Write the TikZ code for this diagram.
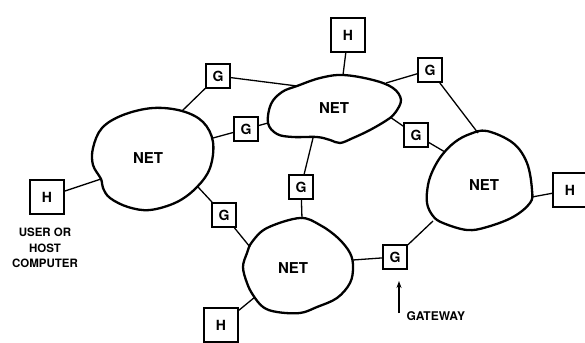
\documentclass[tikz,border=0pt]{standalone}
\usepackage{fontspec}
\setmainfont{TeX Gyre Heros}
\usetikzlibrary{arrows.meta}
\begin{document}
\begin{tikzpicture}[x=1pt,y=-1pt,
		net/.style={line width=2.3pt,line join=round},
		link/.style={line width=1.3pt},
		gbox/.style={draw,line width=1.8pt,minimum size=24pt,inner sep=0pt,font=\fontsize{14}{14}\selectfont\bfseries},
		hbox/.style={draw,line width=1.8pt,minimum size=34pt,inner sep=0pt,font=\fontsize{14}{14}\selectfont\bfseries},
		lbl/.style={font=\fontsize{15}{15}\selectfont\bfseries}]
		\useasboundingbox (0,0) rectangle (585,342);
		% the four networks
		\draw[net] plot[smooth cycle,tension=0.6] coordinates {(153,108) (182,111) (203,122) (213,142) (210,168) (197,187) (177,202) (150,210) (128,207) (110,198) (103,188) (101,179) (93,165) (93,148) (102,128) (123,115)};
		\draw[net] plot[smooth cycle,tension=0.6] coordinates {(297,86) (320,78) (343,75) (373,80) (393,88) (401,100) (395,113) (387,120) (370,130) (353,138) (340,143) (330,140) (317,137) (293,137) (277,134) (268,123) (271,104) (282,92)};
		\draw[net] plot[smooth cycle,tension=0.6] coordinates {(487,131) (513,143) (527,163) (532,190) (530,203) (513,217) (487,227) (467,230) (443,223) (433,216) (427,203) (428,185) (433,170) (442,155) (455,142) (470,134)};
		\draw[net] plot[smooth cycle,tension=0.6] coordinates {(300,218) (320,225) (338,238) (350,253) (353,267) (350,283) (337,298) (317,307) (300,313) (277,312) (263,307) (253,295) (247,283) (243,267) (247,253) (252,242) (267,228)};
		\node[lbl] (net left) at (148,158) {NET};
		\node[lbl] (net top) at (334,108) {NET};
		\node[lbl] (net right) at (484,185) {NET};
		\node[lbl] (net bottom) at (293,268) {NET};
		% where the links meet the networks
		\coordinate (left a) at (182,111);
		\coordinate (left b) at (213,138);
		\coordinate (left c) at (198,187);
		\coordinate (left d) at (101,179);
		\coordinate (top a) at (297,86);
		\coordinate (top b) at (268,123);
		\coordinate (top c) at (343,75);
		\coordinate (top d) at (386,83);
		\coordinate (top e) at (390,117);
		\coordinate (top f) at (313,138);
		\coordinate (right a) at (478,133);
		\coordinate (right b) at (445,152);
		\coordinate (right c) at (532,197);
		\coordinate (right d) at (433,221);
		\coordinate (bottom a) at (302,219);
		\coordinate (bottom b) at (250,247);
		\coordinate (bottom c) at (255,297);
		\coordinate (bottom d) at (353,260);
		% gateways and hosts
		\node[gbox] (g1) at (218,76) {G};
		\node[gbox] (g2) at (246,129) {G};
		\node[gbox] (g3) at (430,70) {G};
		\node[gbox] (g4) at (416,135) {G};
		\node[gbox] (g5) at (301,187) {G};
		\node[gbox] (g6) at (395,257) {G};
		\node[gbox] (g7) at (224,215) {G};
		\node[hbox] (h top) at (348,35) {H};
		\node[hbox] (h left) at (47,197) {H};
		\node[hbox] (h bottom) at (221,325) {H};
		\node[hbox] (h right) at (570,190) {H};
		\draw[link] (left a) -- (g1) -- (top a);
		\draw[link] (left b) -- (g2) -- (top b);
		\draw[link] (top d) -- (g3) -- (right a);
		\draw[link] (top e) -- (g4) -- (right b);
		\draw[link] (top f) -- (g5) -- (bottom a);
		\draw[link] (left c) -- (g7) -- (bottom b);
		\draw[link] (bottom d) -- (g6) -- (right d);
		\draw[link] (h top) -- (top c);
		\draw[link] (h left) -- (left d);
		\draw[link] (h bottom) -- (bottom c);
		\draw[link] (right c) -- (h right);
		% labels
		\node[align=center,font=\fontsize{11.5}{15.5}\selectfont\bfseries] (host label) at (45,248) {USER OR\\HOST\\COMPUTER};
		\coordinate (arrow foot) at (399,313);
		\coordinate (arrow tip) at (399,281);
		\draw[link,-{Stealth[length=7pt,width=5pt]}] (arrow foot) -- (arrow tip);
		\node[anchor=west,font=\fontsize{12}{12}\selectfont\bfseries] (gateway label) at (403,316) {GATEWAY};
	\end{tikzpicture}
\end{document}
